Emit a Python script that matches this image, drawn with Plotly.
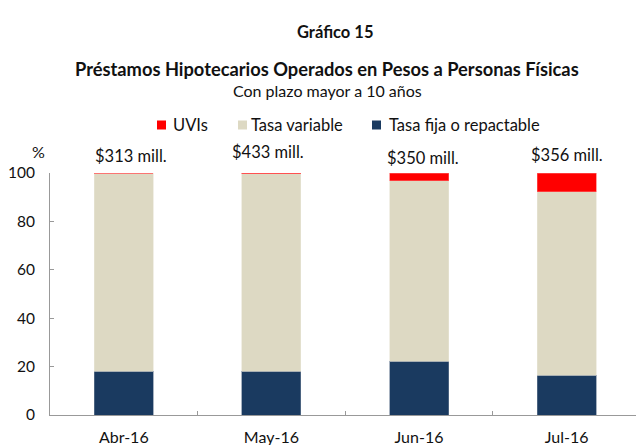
import plotly.graph_objects as go

categories = ["Abr-16", "May-16", "Jun-16", "Jul-16"]
fija = [18.0, 18.0, 22.3, 16.5]
uvis = [0.0, 0.4, 3.3, 7.8]
variable = [100 - f - u for f, u in zip(fija, uvis)]
montos = ["$313 mill.", "$433 mill.", "$350 mill.", "$356 mill."]
y_ticks = [0, 20, 40, 60, 80, 100]
legend_names = ["UVIs", "Tasa variable", "Tasa fija o repactable"]

NAVY = "#1a3a60"
BEIGE = "#ddd9c3"
RED = "#ff0000"
FONT = "Lato"

W, H = 636, 445
ML, MR, MT, MB = 50, 0, 173, 30
pw, ph = W - ML - MR, H - MT - MB


def px(x):
    return (x - ML) / pw


def py(y):
    return (H - y - MB) / ph


fig = go.Figure()
fig.add_trace(go.Bar(x=categories, y=fija, name=legend_names[2],
                     marker=dict(color=NAVY, line=dict(color="#6d7f96", width=0.6)),
                     showlegend=False))
fig.add_trace(go.Bar(x=categories, y=variable, name=legend_names[1],
                     marker=dict(color=BEIGE, line=dict(color="#e8e5d6", width=0.6)),
                     showlegend=False))
fig.add_trace(go.Bar(x=categories, y=uvis, name=legend_names[0],
                     marker=dict(color=RED, line=dict(color="#ff6060", width=0.6)),
                     showlegend=False))

# manual legend
legend_pos = [(157, 171), (238, 249), (372, 387)]
for name, col, (sx, tx) in zip(legend_names, [RED, BEIGE, NAVY], legend_pos):
    fig.add_shape(type="rect", xref="paper", yref="paper",
                  x0=px(sx), x1=px(sx + 9), y0=py(129.5), y1=py(120.5),
                  fillcolor=col, line=dict(width=0))
    fig.add_annotation(x=px(tx), y=py(125), xref="paper", yref="paper", text=name,
                       showarrow=False, xanchor="left", yanchor="middle",
                       font=dict(family=FONT, size=16.5, color="#111"))

label_shift = [(7, 17), (-3, 21), (4, 15), (0, 18)]
for cat, txt, (dx, dy) in zip(categories, montos, label_shift):
    fig.add_annotation(x=cat, y=100, text=txt, showarrow=False, xref="x", yref="y",
                       xshift=dx, yshift=dy, yanchor="middle",
                       font=dict(family=FONT, size=16.5, color="#111"))

# titles
fig.add_annotation(x=px(335), y=py(20), xref="paper", yref="paper", text="<b>Gráfico 15</b>",
                   showarrow=False, font=dict(family=FONT, size=16.5, color="#111"))
fig.add_annotation(x=px(327), y=py(56), xref="paper", yref="paper",
                   text="<b>Préstamos Hipotecarios Operados en Pesos a Personas Físicas</b>",
                   showarrow=False, font=dict(family=FONT, size=18.3, color="#111"))
fig.add_annotation(x=px(327), y=py(79.5), xref="paper", yref="paper",
                   text="Con plazo mayor a 10 años",
                   showarrow=False, font=dict(family=FONT, size=16, color="#111"))
fig.add_annotation(x=px(30), y=py(140), xref="paper", yref="paper", text="%",
                   showarrow=False, font=dict(family=FONT, size=16, color="#111"))

fig.update_layout(
    width=W, height=H,
    margin=dict(l=ML, r=MR, t=MT, b=MB, pad=0),
    barmode="stack", bargap=0.6,
    plot_bgcolor="white", paper_bgcolor="white",
    font=dict(family=FONT, size=15, color="#111"),
    showlegend=False,
    xaxis=dict(range=[-0.5, 3.47], showline=True, linecolor="#999", linewidth=1,
               ticks="inside", tickson="boundaries", ticklen=4, tickcolor="#999",
               ticklabelstandoff=8, showgrid=False, zeroline=False,
               tickfont=dict(family=FONT, size=16, color="#111")),
    yaxis=dict(range=[0, 100], tickvals=y_ticks, showline=True, linecolor="#999",
               linewidth=1, ticks="inside", ticklen=4, tickcolor="#999",
               ticklabelstandoff=11, showgrid=False, zeroline=False,
               tickfont=dict(family=FONT, size=15.5, color="#111")),
)

fig.write_html("out.html", config={"displayModeBar": False},
               post_script="document.body.style.margin='0';document.body.style.overflow='hidden';")
